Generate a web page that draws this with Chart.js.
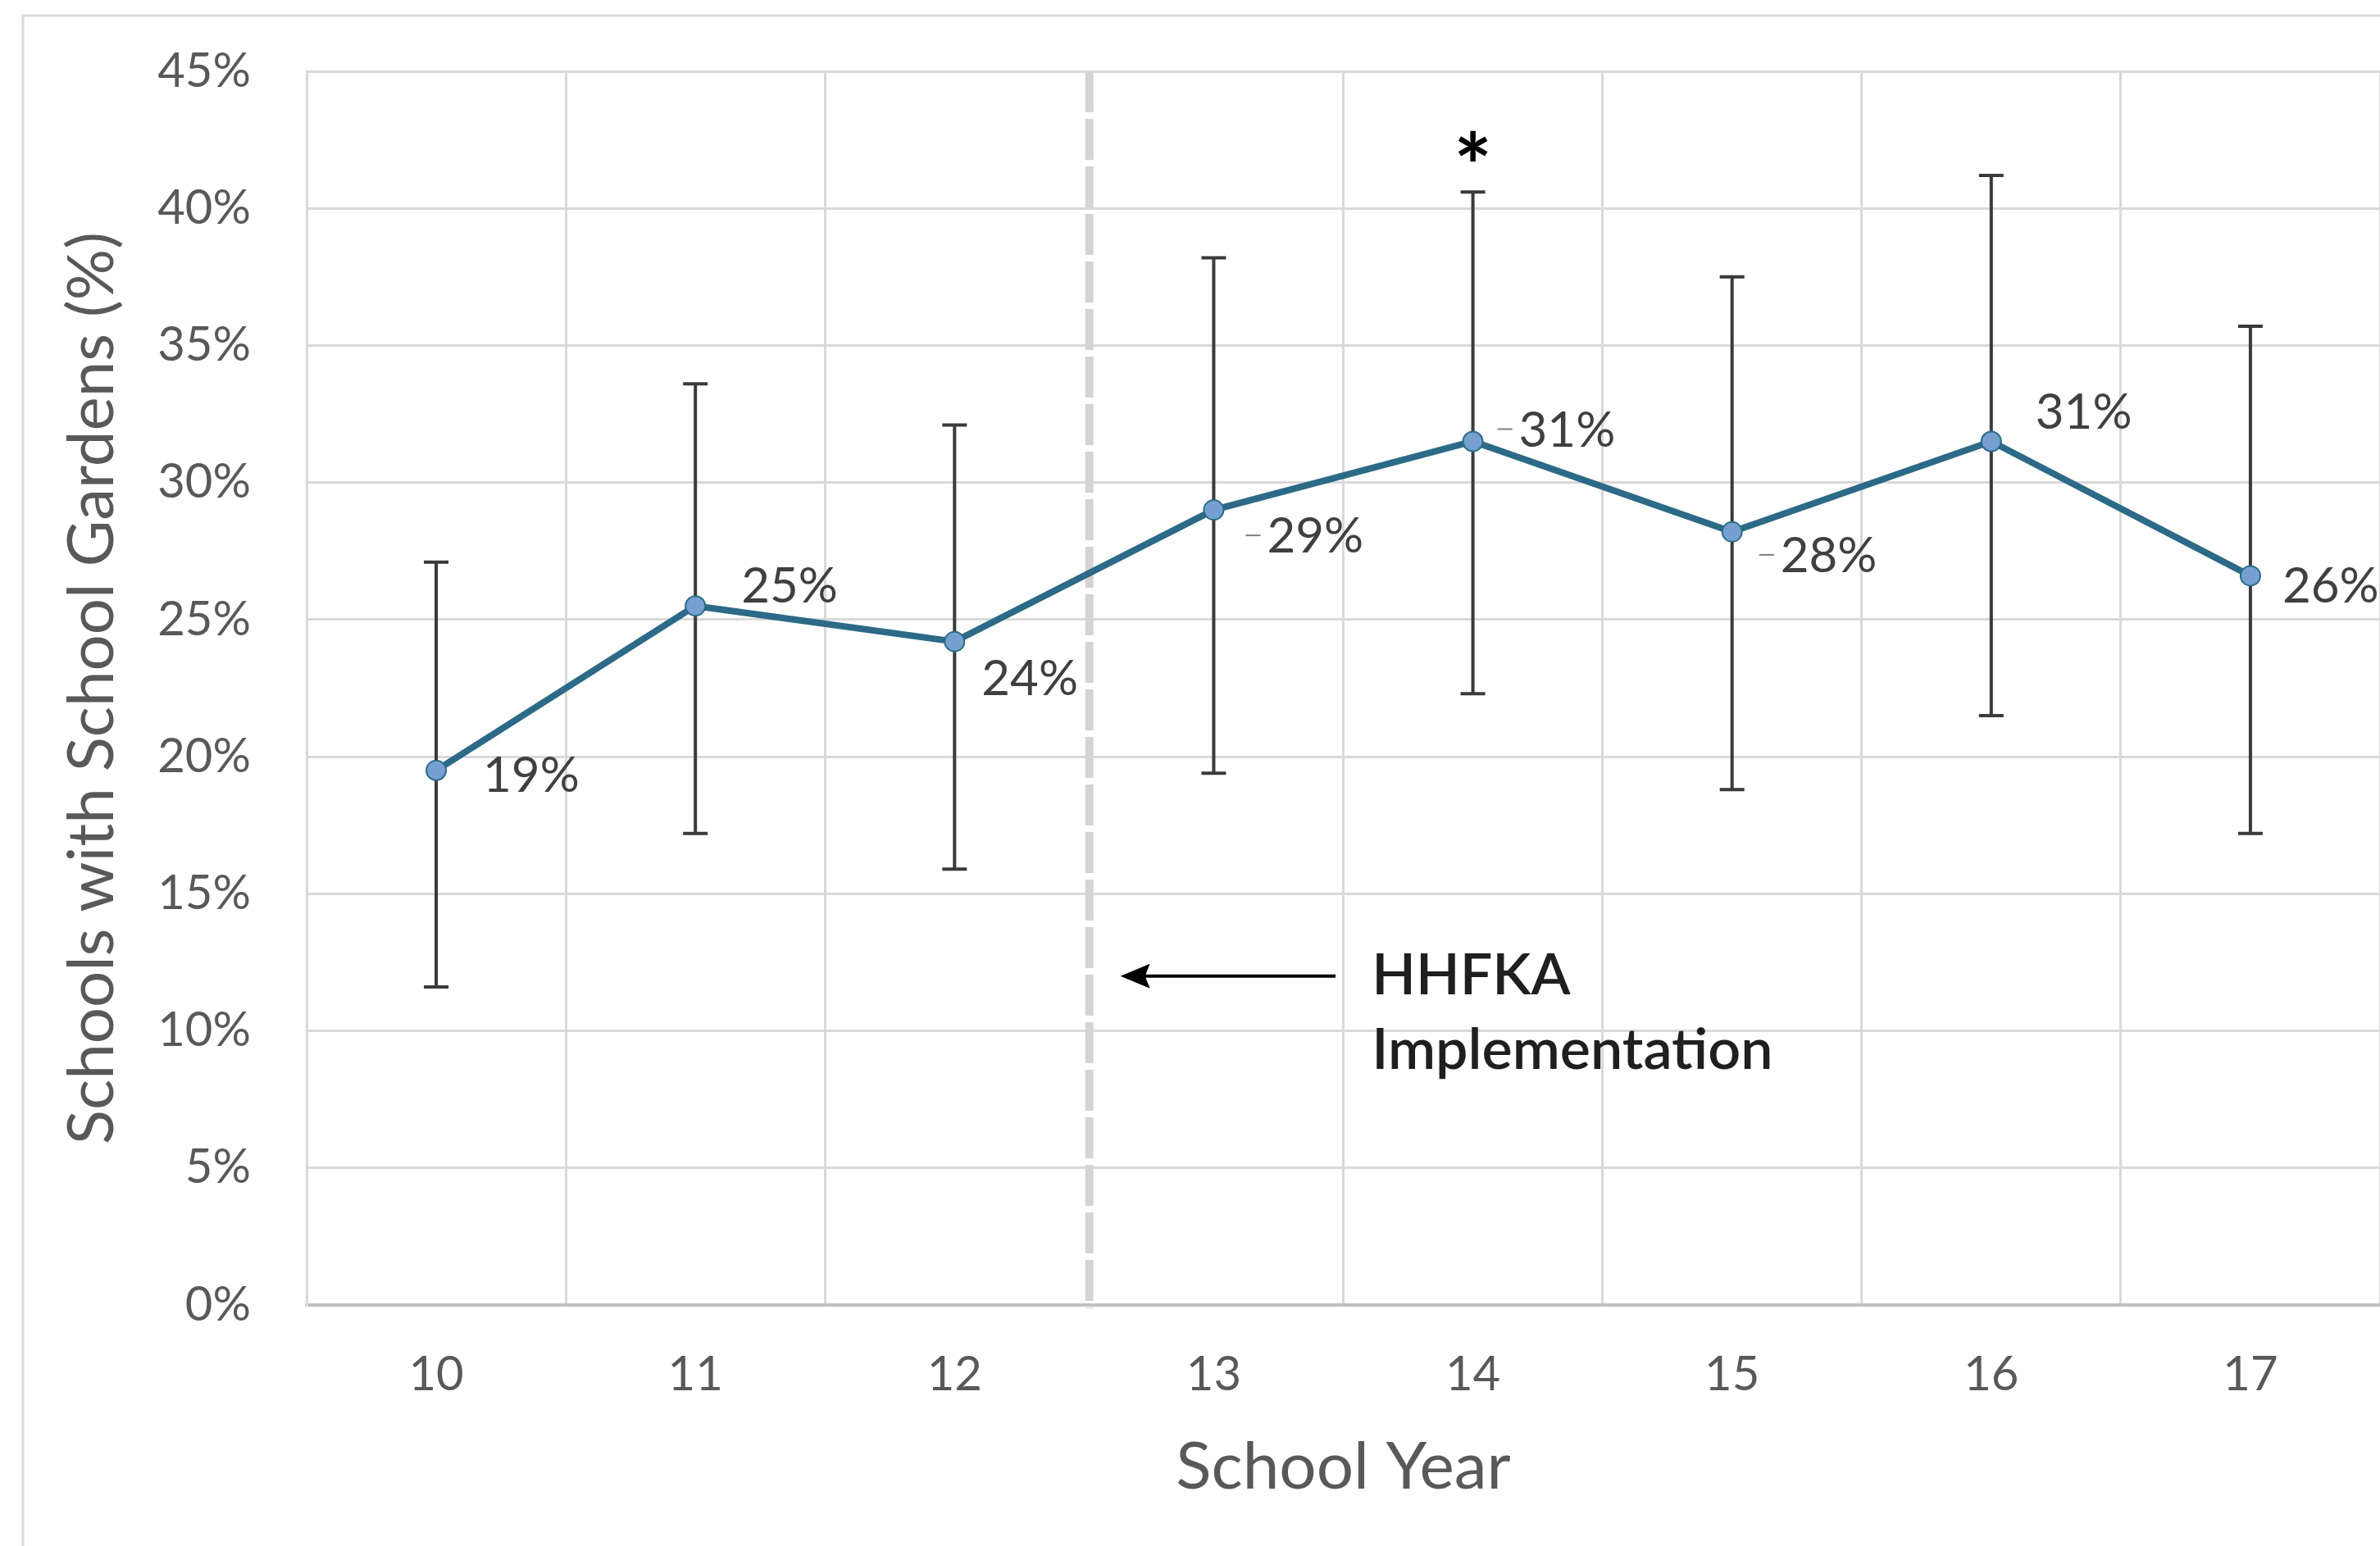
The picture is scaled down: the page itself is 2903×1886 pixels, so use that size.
<!DOCTYPE html>
<html>
<head>
<meta charset="utf-8">
<script src="https://cdn.jsdelivr.net/npm/chart.js@4.4.0/dist/chart.umd.min.js"></script>
<style>
  html, body { margin: 0; padding: 0; background: #fff; }
  #wrap { position: relative; width: 2903px; height: 1886px; }
</style>
</head>
<body>
<div id="wrap"><canvas id="gardenChart"></canvas></div>
<script>
// school years (x categories)
const schoolYears = ['10', '11', '12', '13', '14', '15', '16', '17'];
// share of schools with gardens, %
const gardenPct = [19.5, 25.5, 24.2, 29.0, 31.5, 28.2, 31.5, 26.6];
// confidence interval ends, %
const ciUpper = [27.1, 33.6, 32.1, 38.2, 40.6, 37.5, 41.2, 35.7];
const ciLower = [11.6, 17.2, 15.9, 19.4, 22.3, 18.8, 21.5, 17.2];
// printed labels next to points
const pointLabels = ['19%', '25%', '24%', '29%', '31%', '28%', '31%', '26%'];
const yMin = 0, yMax = 45, yStep = 5;

// annotations
const policyText = ['HHFKA', 'Implementation'];
const policyAt = 2.52;        // between 12 and 13
const starIndex = 4;          // year 14 marked significant

const FONT = 'Lato, "Open Sans", sans-serif';
const GRID = '#d9d9d9';
const TEXT = '#595959';

// label placement relative to the point: [dx, dy, leader]
const labelOffsets = [
	[57, 7, false], [56, -24, false], [33, 46, false], [65, 33, true],
	[56, -13, true], [59, 30, true], [54, -35, false], [39, 13, false]
];

const overlayPlugin = {
	id: 'overlay',
	beforeDraw(chart) {
		const ctx = chart.ctx;
		ctx.save();
		ctx.strokeStyle = '#d9d9d9';
		ctx.lineWidth = 3;
		ctx.strokeRect(28, 19, chart.width + 20, chart.height + 20);
		ctx.restore();
	},
	beforeDatasetsDraw(chart) {
		const ctx = chart.ctx;
		const xs = chart.scales.x, ys = chart.scales.y;
		const area = chart.chartArea;

		// HHFKA line
		const px = xs.getPixelForValue(policyAt);
		ctx.save();
		ctx.strokeStyle = '#d4d4d4';
		ctx.lineWidth = 10;
		ctx.setLineDash([50, 8]);
		ctx.beginPath();
		ctx.moveTo(px, area.top);
		ctx.lineTo(px, area.bottom + 4);
		ctx.stroke();
		ctx.restore();

		// error bars
		ctx.save();
		ctx.strokeStyle = '#3a3a3a';
		ctx.lineWidth = 4;
		for (let i = 0; i < gardenPct.length; i++) {
			const x = xs.getPixelForValue(i);
			const top = ys.getPixelForValue(ciUpper[i]);
			const bot = ys.getPixelForValue(ciLower[i]);
			ctx.beginPath();
			ctx.moveTo(x, top); ctx.lineTo(x, bot);
			ctx.moveTo(x - 15, top); ctx.lineTo(x + 15, top);
			ctx.moveTo(x - 15, bot); ctx.lineTo(x + 15, bot);
			ctx.stroke();
		}
		ctx.restore();
	},
	afterDatasetsDraw(chart) {
		const ctx = chart.ctx;
		const xs = chart.scales.x, ys = chart.scales.y;

		// point labels
		ctx.save();
		ctx.font = '60px ' + FONT;
		ctx.fillStyle = '#404040';
		ctx.textBaseline = 'middle';
		ctx.textAlign = 'left';
		ctx.strokeStyle = '#7f7f7f';
		ctx.lineWidth = 2;
		for (let i = 0; i < gardenPct.length; i++) {
			const x = xs.getPixelForValue(i);
			const y = ys.getPixelForValue(gardenPct[i]);
			const [dx, dy, leader] = labelOffsets[i];
			ctx.fillText(pointLabels[i], x + dx, y + dy);
			if (leader) {
				ctx.beginPath();
				ctx.moveTo(x + dx - 26, y + dy - 2);
				ctx.lineTo(x + dx - 8, y + dy - 2);
				ctx.stroke();
			}
		}
		ctx.restore();

		// asterisk
		ctx.save();
		ctx.font = 'bold 110px ' + FONT;
		ctx.fillStyle = '#000';
		ctx.textAlign = 'center';
		ctx.textBaseline = 'alphabetic';
		ctx.fillText('*', xs.getPixelForValue(starIndex), ys.getPixelForValue(42.2) + 62);
		ctx.restore();

		// arrow + text
		const ay = ys.getPixelForValue(12);
		const ax0 = xs.getPixelForValue(3.47);
		const ax1 = xs.getPixelForValue(2.64);
		ctx.save();
		ctx.strokeStyle = '#000';
		ctx.fillStyle = '#000';
		ctx.lineWidth = 4;
		ctx.beginPath();
		ctx.moveTo(ax0, ay); ctx.lineTo(ax1 + 20, ay);
		ctx.stroke();
		ctx.beginPath();
		ctx.moveTo(ax1, ay);
		ctx.lineTo(ax1 + 36, ay - 15);
		ctx.lineTo(ax1 + 30, ay);
		ctx.lineTo(ax1 + 36, ay + 15);
		ctx.closePath();
		ctx.fill();

		ctx.font = '600 70px ' + FONT;
		ctx.fillStyle = '#1f1f1f';
		ctx.textAlign = 'left';
		ctx.textBaseline = 'middle';
		const tx = xs.getPixelForValue(3.61);
		ctx.fillText(policyText[0], tx, ay);
		ctx.fillText(policyText[1], tx, ys.getPixelForValue(9.3));
		ctx.restore();
	}
};

new Chart(document.getElementById('gardenChart'), {
	type: 'line',
	data: {
		labels: schoolYears,
		datasets: [{
			data: gardenPct,
			borderColor: '#2c6a87',
			borderWidth: 8,
			pointRadius: 12,
			pointBackgroundColor: '#75a0cf',
			pointBorderColor: '#2c6a87',
			pointBorderWidth: 2,
			tension: 0
		}]
	},
	options: {
		responsive: true,
		maintainAspectRatio: false,
		devicePixelRatio: 1,
		animation: false,
		layout: { autoPadding: false, padding: { top: 87, right: 0, bottom: 0, left: 0 } },
		plugins: {
			legend: { display: false },
			tooltip: { enabled: false }
		},
		scales: {
			x: {
				offset: true,
				grid: {
					offset: true,
					drawTicks: false,
					lineWidth: 3,
					color: (c) => c.index === 3 ? 'rgba(0,0,0,0)' : GRID
				},
				border: { color: '#bfbfbf', width: 4 },
				ticks: { color: TEXT, font: { family: FONT, size: 58 }, padding: 50 },
				title: {
					display: true,
					text: 'School Year',
					color: TEXT,
					font: { family: FONT, size: 80 },
					padding: { top: 20, bottom: 48 }
				},
				afterFit: (s) => { s.height = 294; }
			},
			y: {
				min: yMin,
				max: yMax,
				ticks: {
					stepSize: yStep,
					color: TEXT,
					font: { family: FONT, size: 58 },
					padding: 8,
					callback: (v) => v + '%'
				},
				grid: { drawTicks: true, tickLength: 60, tickColor: 'rgba(0,0,0,0)', lineWidth: 3, color: GRID },
				border: { color: GRID, width: 3 },
				title: {
					display: true,
					text: 'Schools with School Gardens (%)',
					color: TEXT,
					font: { family: FONT, size: 78 },
					padding: { top: 66, bottom: 0 }
				},
				afterFit: (s) => { s.width = 374; }
			}
		}
	},
	plugins: [overlayPlugin]
});
</script>
</body>
</html>
